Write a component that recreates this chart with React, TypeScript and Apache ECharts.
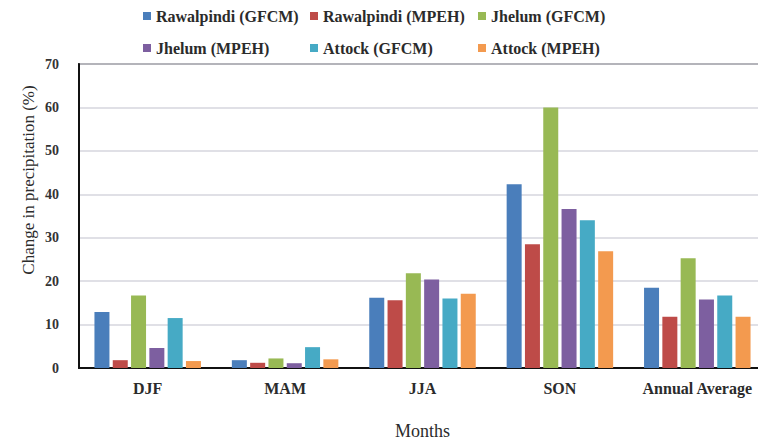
import React, { useEffect, useRef } from "react";
import * as echarts from "echarts";

const categories = ["DJF", "MAM", "JJA", "SON", "Annual Average"];
const seriesNames = [
  "Rawalpindi (GFCM)",
  "Rawalpindi (MPEH)",
  "Jhelum (GFCM)",
  "Jhelum (MPEH)",
  "Attock (GFCM)",
  "Attock (MPEH)",
];
const rawalpindiGFCM = [12.9, 1.8, 16.2, 42.3, 18.5];
const rawalpindiMPEH = [1.8, 1.2, 15.6, 28.5, 11.8];
const jhelumGFCM = [16.7, 2.2, 21.8, 60.0, 25.3];
const jhelumMPEH = [4.6, 1.1, 20.4, 36.6, 15.8];
const attockGFCM = [11.5, 4.8, 16.0, 34.0, 16.7];
const attockMPEH = [1.6, 2.0, 17.1, 26.9, 11.8];
const seriesValues = [rawalpindiGFCM, rawalpindiMPEH, jhelumGFCM, jhelumMPEH, attockGFCM, attockMPEH];
const colors = ["#4a7ebb", "#be4b48", "#98b954", "#7d5fa0", "#46aac5", "#f39a4f"];
const yTicks = [0, 10, 20, 30, 40, 50, 60, 70];

const FONT = "'Times New Roman', 'Liberation Serif', 'DejaVu Serif', serif";
const TEXT = "#2b2b2b";

export default function App() {
  const ref = useRef<HTMLDivElement>(null);
  useEffect(() => {
    if (!ref.current) return;
    const chart = echarts.init(ref.current, null, { renderer: "svg" });
    const legendCols = [143, 310, 478];
    const legendRows = [8, 40];
    const legends = seriesNames.map((n, i) => ({
      data: [n],
      left: legendCols[i % 3],
      top: legendRows[Math.floor(i / 3)],
      orient: "horizontal",
      itemWidth: 8,
      itemHeight: 8,
      icon: "rect",
      padding: 0,
      selectedMode: false,
      textStyle: { fontFamily: FONT, fontSize: 16, fontWeight: "bold", color: TEXT },
    }));
    chart.setOption({
      animation: false,
      color: colors,
      textStyle: { fontFamily: FONT },
      legend: legends,
      grid: {
        left: 79,
        right: -8,
        top: 64,
        bottom: 74,
        show: true,
        borderColor: "#1a1a1a",
        borderWidth: 1.5,
        containLabel: false,
        outerBoundsMode: "none",
      },
      graphic: [
        {
          type: "text",
          x: 28,
          y: 180,
          rotation: Math.PI / 2,
          style: {
            text: "Change in precipitation (%)",
            fontFamily: FONT,
            fontSize: 17,
            fill: TEXT,
            align: "center",
            verticalAlign: "middle",
          },
        },
      ],
      xAxis: {
        type: "category",
        data: categories,
        name: "Months",
        nameLocation: "middle",
        nameGap: 54,
        nameTextStyle: { fontFamily: FONT, fontSize: 18, color: TEXT },
        axisLine: { lineStyle: { color: "#111", width: 2 } },
        axisTick: { show: false },
        axisLabel: { interval: 0, fontFamily: FONT, fontSize: 16, fontWeight: "bold", color: TEXT, margin: 12 },
      },
      yAxis: {
        type: "value",
        min: yTicks[0],
        max: yTicks[yTicks.length - 1],
        interval: 10,
        axisLine: { show: true, lineStyle: { color: "#111", width: 2 } },
        axisTick: { show: false },
        axisLabel: { fontFamily: FONT, fontSize: 14, fontWeight: "bold", color: "#333", margin: 20 },
        splitLine: { lineStyle: { color: "#d6d6de", width: 1.5 } },
      },
      series: seriesNames.map((n, i) => ({
        name: n,
        type: "bar",
        data: seriesValues[i],
        barWidth: 15,
        barGap: "22%",
        itemStyle: { color: colors[i] },
      })),
    });
    return () => chart.dispose();
  }, []);
  return <div ref={ref} style={{ width: 758, height: 442, position: "absolute", left: 0, top: 0 }} />;
}
